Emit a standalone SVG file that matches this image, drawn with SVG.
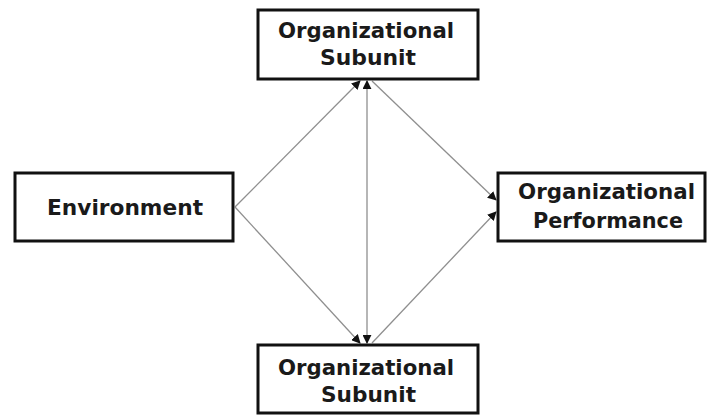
<svg xmlns="http://www.w3.org/2000/svg" width="708" height="416" viewBox="0 0 708 416">
<style>
.box{fill:#fff;stroke:#111;stroke-width:3}
.t{font-family:"DejaVu Sans","Liberation Sans",Arial,sans-serif;font-weight:bold;font-size:21px;fill:#1a1a1a}
.c{fill:none;stroke:#8f8f8f;stroke-width:1.3}
</style>
<defs>
<marker id="ah" viewBox="0 0 10 10" refX="9" refY="5" markerWidth="9" markerHeight="9" markerUnits="userSpaceOnUse" orient="auto-start-reverse">
<path d="M0,0 L10,5 L0,10 z" fill="#111"/>
</marker>
</defs>
<rect width="708" height="416" fill="#fff"/>
<g id="connectors">
<line class="c" x1="235" y1="207" x2="360" y2="81" marker-end="url(#ah)"/>
<line class="c" x1="235" y1="207" x2="360" y2="343" marker-end="url(#ah)"/>
<line class="c" x1="367" y1="81" x2="367" y2="343" marker-start="url(#ah)" marker-end="url(#ah)"/>
<line class="c" x1="372" y1="81" x2="496" y2="200" marker-end="url(#ah)"/>
<line class="c" x1="372" y1="343" x2="496" y2="212" marker-end="url(#ah)"/>
</g>
<g id="subunit-top">
<rect class="box" x="258" y="10" width="220" height="69"/>
<text class="t" x="278" y="38" textLength="176" lengthAdjust="spacingAndGlyphs">Organizational</text>
<text class="t" x="320" y="65" textLength="96" lengthAdjust="spacingAndGlyphs">Subunit</text>
</g>
<g id="environment">
<rect class="box" x="15" y="173" width="218" height="68"/>
<text class="t" x="47" y="215" textLength="156" lengthAdjust="spacingAndGlyphs">Environment</text>
</g>
<g id="performance">
<rect class="box" x="498" y="173" width="207" height="68"/>
<text class="t" x="518" y="199" textLength="177" lengthAdjust="spacingAndGlyphs">Organizational</text>
<text class="t" x="533" y="228" textLength="150" lengthAdjust="spacingAndGlyphs">Performance</text>
</g>
<g id="subunit-bottom">
<rect class="box" x="258" y="345" width="220" height="68"/>
<text class="t" x="278" y="375" textLength="176" lengthAdjust="spacingAndGlyphs">Organizational</text>
<text class="t" x="321" y="402" textLength="95" lengthAdjust="spacingAndGlyphs">Subunit</text>
</g>
</svg>
